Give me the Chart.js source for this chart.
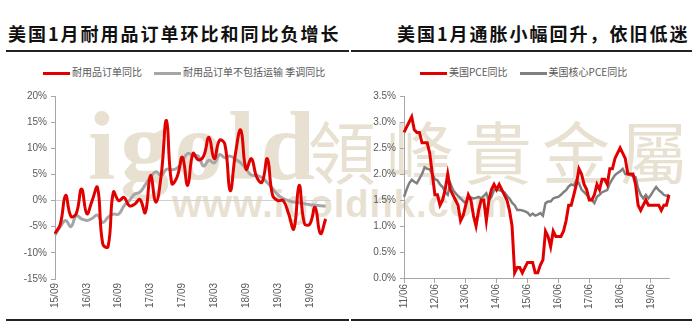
<!DOCTYPE html>
<html>
<head>
<meta charset="utf-8">
<script src="https://cdn.jsdelivr.net/npm/chart.js@4.4.0/dist/chart.umd.min.js"></script>
<style>
  body { margin: 0; background: #fff; width: 700px; height: 334px; overflow: hidden; position: relative; font-family: "Liberation Sans", Arial, sans-serif; }
  .title { position: absolute; top: 21px; font-family: "Noto Sans CJK SC", sans-serif; font-weight: bold; font-size: 18px; letter-spacing: 2px; color: #111; white-space: nowrap; line-height: 24px; }
  .rule { position: absolute; height: 2px; background: #222; }
  .legend { position: absolute; top: 66px; font-family: "Noto Sans CJK SC", "Liberation Sans", sans-serif; font-size: 10px; color: #595959; white-space: nowrap; line-height: 12px; }
  .legend span.sw { display: inline-block; width: 27px; height: 3px; vertical-align: middle; margin-right: 2px; }
  .legend span.item { margin-right: 12px; }
  .wm { position: absolute; color: #e8e1d2; white-space: nowrap; z-index: 0; }
  canvas { position: absolute; z-index: 1; }
</style>
</head>
<body>
<div class="title" style="left:8px;">美国1月耐用品订单环比和同比负增长</div>
<div class="title" style="left:397px;">美国1月通胀小幅回升，依旧低迷</div>
<div class="rule" style="left:6px; width:343px; top:50px;"></div>
<div class="rule" style="left:351px; width:341px; top:50px;"></div>
<div class="rule" style="left:6px; width:343px; top:319px;"></div>
<div class="rule" style="left:351px; width:341px; top:319px;"></div>

<div class="legend" style="left:43px;"><span class="item"><span class="sw" style="background:#e00000"></span>耐用品订单同比</span><span class="item"><span class="sw" style="background:#a6a6a6"></span>耐用品订单不包括运输 季调同比</span></div>
<div class="legend" style="left:420px;"><span class="item"><span class="sw" style="background:#e00000"></span>美国PCE同比</span><span class="item"><span class="sw" style="background:#808080"></span>美国核心PCE同比</span></div>

<div class="wm" style="left:88px; top:90px; font-family:'Liberation Serif',serif; font-weight:bold; font-size:98px; letter-spacing:5px;">igold</div>
<div class="wm" style="left:308px; top:100px; font-family:'Noto Sans CJK TC',sans-serif; font-size:68px; letter-spacing:10px;">領峰貴金屬</div>
<div class="wm" style="left:172px; top:183px; font-weight:bold; font-size:38px; letter-spacing:1px;">www.igoldhk.com</div>

<canvas id="leftChart" width="350" height="232" style="left:0; top:85px;"></canvas>
<canvas id="rightChart" width="350" height="232" style="left:350px; top:85px;"></canvas>

<script>
// left chart: durable goods orders, monthly 15/09 .. 20/01
const leftTickLabels = ['15/09', '16/03', '16/09', '17/03', '17/09', '18/03', '18/09', '19/03', '19/09'];
const durableOrdersYoY = [
    -6.3, -4.5, 1.0, -3.0, -2.5, 2.2, -2.5, 0.0, 2.5, -8.3,
    -8.8, 1.6, 0.0, 0.6, -1.0, -0.7, 0.2, -2.3, 4.8, -0.3,
    4.8, 15.3, 3.3, 4.5, 8.3, 2.9, 9.0, 7.8, 8.5, 12.1,
    8.0, 11.5, 10.8, 1.9, 9.0, 13.5, 6.0, 8.0, 4.5, 3.5,
    8.0, 1.0, 0.0, 0.0, -2.5, -5.4, 2.9, -4.4, -4.5, -1.3,
    -6.3, -3.5
];
const coreOrdersYoY = [
    -6.6, -5.0, -3.8, -5.0, -2.9, -3.5, -3.8, -3.4, -2.8, -4.2,
    -3.2, -2.6, -2.6, -1.0, 0.0, 1.2, 1.6, 3.0, 4.5, 5.5,
    4.8, 6.0, 5.9, 6.2, 7.5, 9.0, 8.6, 8.5, 6.6, 7.7,
    7.2, 8.8, 8.2, 8.5, 7.9, 7.2, 6.0, 4.9, 4.8, 4.4,
    3.4, 2.3, 1.1, 0.4, 0.0, -0.3, -0.4, -0.6, -0.8, -0.9,
    -1.0, -1.1
];

// right chart: PCE, monthly 11/06 .. 20/01
const rightTickLabels = ['11/06', '12/06', '13/06', '14/06', '15/06', '16/06', '17/06', '18/06', '19/06'];
const pceYoY = [
    2.8, 2.9, 3.0, 3.1, 2.85, 2.8, 2.8, 2.6, 2.6, 2.6,
    2.4, 2.0, 1.6, 1.6, 1.4, 1.5, 1.7, 2.0, 1.7, 1.6,
    1.5, 1.4, 1.1, 1.2, 1.4, 1.6, 1.5, 1.2, 1.0, 1.3,
    1.5, 1.5, 1.1, 1.5, 1.7, 1.8, 1.7, 1.8, 1.7, 1.6,
    1.5, 1.3, 1.0, 0.1, 0.2, 0.2, 0.1, 0.2, 0.3, 0.3,
    0.3, 0.1, 0.1, 0.25, 0.35, 0.9, 0.8, 0.6, 0.9, 0.8,
    0.8, 0.8, 0.9, 1.1, 1.4, 1.4, 1.6, 1.8, 2.1, 2.0,
    1.8, 1.7, 1.5, 1.5, 1.6, 1.8, 1.7, 1.9, 1.9, 1.8,
    2.1, 2.1, 2.3, 2.4, 2.5, 2.4, 2.3, 2.0, 2.0, 2.0,
    1.8, 1.4, 1.3, 1.4, 1.5, 1.4, 1.4, 1.4, 1.4, 1.4,
    1.3, 1.4, 1.4, 1.6
];
const corePceYoY = [
    1.56, 1.7, 1.82, 1.89, 1.85, 1.82, 1.91, 2.0, 2.13, 2.1,
    2.09, 2.0, 1.9, 1.88, 1.8, 1.75, 1.65, 1.6, 1.82, 1.7,
    1.63, 1.58, 1.53, 1.48, 1.44, 1.56, 1.55, 1.53, 1.54, 1.56,
    1.53, 1.58, 1.63, 1.5, 1.56, 1.69, 1.69, 1.69, 1.67, 1.65,
    1.58, 1.53, 1.45, 1.4, 1.31, 1.31, 1.3, 1.28, 1.26, 1.2,
    1.24, 1.2, 1.22, 1.25, 1.2, 1.44, 1.47, 1.47, 1.53, 1.55,
    1.56, 1.6, 1.65, 1.69, 1.76, 1.8, 1.78, 1.88, 1.82, 1.7,
    1.65, 1.6, 1.53, 1.5, 1.44, 1.56, 1.6, 1.65, 1.67, 1.69,
    1.82, 1.9, 1.98, 2.02, 2.05, 2.1, 2.0, 2.0, 1.98, 1.96,
    1.94, 1.72, 1.6, 1.53, 1.6, 1.53, 1.6, 1.68, 1.75, 1.69,
    1.65, 1.6, 1.58, 1.6
];

// month categories "yy/mm"
function monthLabels(year, month, count) {
    const out = [];
    for (let i = 0; i < count; i++) {
        const y = year + Math.floor((month - 1 + i) / 12);
        const m = (month - 1 + i) % 12 + 1;
        out.push(String(y % 100).padStart(2, '0') + '/' + String(m).padStart(2, '0'));
    }
    return out;
}
const leftMonths = monthLabels(2015, 9, 53);
const rightMonths = monthLabels(2011, 6, 104);

const axisGrey = '#a6a6a6';
const tickFont = { family: 'Liberation Sans', size: 10 };
const tickColor = '#595959';

Chart.defaults.animation = false;

// left chart
new Chart(document.getElementById('leftChart').getContext('2d'), {
    type: 'line',
    data: {
        labels: leftMonths,
        datasets: [{
            label: '耐用品订单同比',
            data: durableOrdersYoY,
            borderColor: '#e00000',
            borderWidth: 3,
            tension: 0.45,
            pointRadius: 0
        }, {
            label: '耐用品订单不包括运输 季调同比',
            data: coreOrdersYoY,
            borderColor: '#a6a6a6',
            borderWidth: 3,
            tension: 0.45,
            pointRadius: 0
        }]
    },
    options: {
        responsive: false,
        devicePixelRatio: 1,
        layout: { padding: { top: 11, right: 19, bottom: 0, left: 0 } },
        plugins: { legend: { display: false }, tooltip: { enabled: false } },
        scales: {
            x: {
                offset: false,
                grid: { display: false, drawTicks: false },
                border: { display: false },
                ticks: {
                    autoSkip: false, minRotation: 90, maxRotation: 90, padding: 4,
                    font: tickFont, color: tickColor,
                    callback: function (v, i) {
                        const lab = this.getLabelForValue(v);
                        return leftTickLabels.includes(lab) ? lab : null;
                    }
                },
                afterFit: function (scale) { scale.height = 38; }
            },
            y: {
                min: -15, max: 20,
                grid: {
                    color: ctx => ctx.tick && ctx.tick.value === 0 ? '#d0d0d0' : 'transparent',
                    tickColor: axisGrey, tickLength: 4
                },
                border: { color: axisGrey },
                ticks: {
                    stepSize: 5, padding: 4, font: tickFont, color: tickColor,
                    callback: v => v + '%'
                },
                afterFit: function (scale) { scale.width = 55; }
            }
        }
    }
});

// right chart
new Chart(document.getElementById('rightChart').getContext('2d'), {
    type: 'line',
    data: {
        labels: rightMonths,
        datasets: [{
            label: '美国PCE同比',
            data: pceYoY,
            borderColor: '#e00000',
            borderWidth: 3,
            tension: 0,
            pointRadius: 0
        }, {
            label: '美国核心PCE同比',
            data: corePceYoY,
            borderColor: '#808080',
            borderWidth: 2.5,
            tension: 0,
            pointRadius: 0
        }]
    },
    options: {
        responsive: false,
        devicePixelRatio: 1,
        layout: { padding: { top: 11, right: 31, bottom: 0, left: 0 } },
        plugins: { legend: { display: false }, tooltip: { enabled: false } },
        scales: {
            x: {
                offset: false,
                grid: { drawOnChartArea: false, drawTicks: true, tickLength: 5, color: axisGrey },
                border: { color: axisGrey },
                ticks: {
                    autoSkip: false, minRotation: 90, maxRotation: 90, padding: 1,
                    font: tickFont, color: tickColor,
                    callback: function (v, i) {
                        const lab = this.getLabelForValue(v);
                        return rightTickLabels.includes(lab) ? lab : null;
                    }
                },
                afterFit: function (scale) { scale.height = 39; }
            },
            y: {
                min: 0, max: 3.5,
                grid: { drawOnChartArea: false, tickColor: axisGrey, tickLength: 4 },
                border: { color: axisGrey },
                ticks: {
                    stepSize: 0.5, padding: 4, font: tickFont, color: tickColor,
                    callback: v => v.toFixed(1) + '%'
                },
                afterFit: function (scale) { scale.width = 54; }
            }
        }
    }
});
</script>
</body>
</html>
